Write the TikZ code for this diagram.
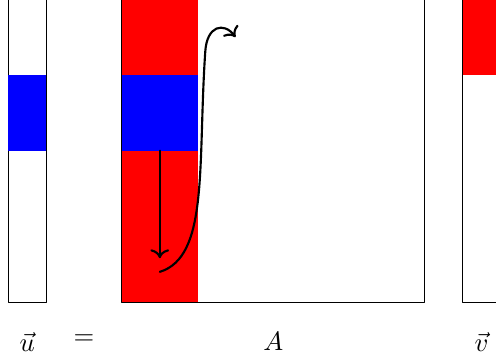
\documentclass[tikz,border=0pt]{standalone}
\usepackage{amsfonts,amsmath,amssymb}
\usepackage{tikz}
\usetikzlibrary{arrows.meta}
\tikzset{
  every picture/.style={line join=round, line cap=round},
  thick/.style={line width=0.8pt},
}

\begin{document}
\begin{tikzpicture}
\useasboundingbox (-1.61,-0.73) rectangle (4.94,3.99);
% the boxes
\draw(-1.5,0) rectangle (-1,4);
\draw(0,0) rectangle (4,4);
\draw(4.5,0) rectangle (5,4);
% the coloured parts
\fill[red](0,0) rectangle (1,4);
\fill[blue](-1.5,2) rectangle (-1,3);
\fill[blue](0,2) rectangle (1,3);
\fill[red](4.5,3) rectangle (5,4);
% labels
\draw(-1.25,-0.52)node(u){$\vec{u}$}
(-0.5,-0.5)node(eq){$=$}
(2,-0.52)node(A){$A$}
(4.75,-0.52)node(v){$\vec{v}$};
% arrows
\coordinate(top) at (0.5,2);
\coordinate(bot) at (0.5,0.58);
\coordinate(start) at (0.5,0.4);
\coordinate(finish) at (1.5,3.5);
\draw[->,thick](start) .. controls (1.15,0.6) and (1.0,1.8) .. (1.1,3.3)
  .. controls (1.12,3.66) and (1.35,3.7) .. (finish);
\draw[->,thick](top)--(bot);
\end{tikzpicture}
\end{document}
